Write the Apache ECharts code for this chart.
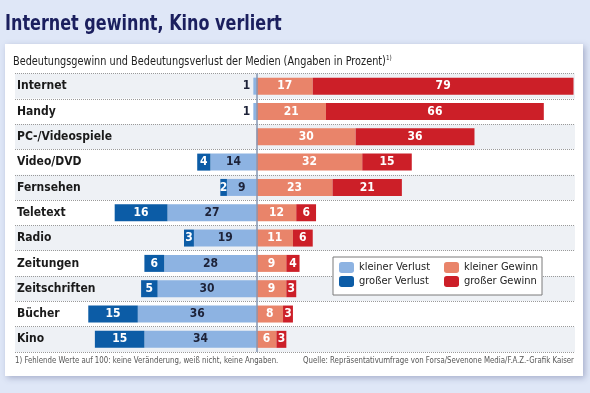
<!DOCTYPE html>
<html>
<head>
<meta charset="utf-8">
<script src="https://cdn.jsdelivr.net/npm/echarts@6/dist/echarts.min.js"></script>
<style>
  html, body { margin: 0; padding: 0; background: #dfe7f7; }
  #chart { width: 590px; height: 393px; }
</style>
</head>
<body>
<div id="chart"></div>
<script>
const kategorien = ["Internet", "Handy", "PC-/Videospiele", "Video/DVD", "Fernsehen", "Teletext", "Radio", "Zeitungen", "Zeitschriften", "Bücher", "Kino"];
const kleinerVerlust = [1, 1, null, 14, 9, 27, 19, 28, 30, 36, 34];
const grosserVerlust = [null, null, null, 4, 2, 16, 3, 6, 5, 15, 15];
const kleinerGewinn = [17, 21, 30, 32, 23, 12, 11, 9, 9, 8, 6];
const grosserGewinn = [79, 66, 36, 15, 21, 6, 6, 4, 3, 3, 3];

const SCHRIFT = '"Liberation Sans Narrow", "DejaVu Sans Condensed", sans-serif';
const DUNKEL = "#1d2238";

// Verluste nach links (negativ); sehr kleine Werte bekommen das Label neben den Balken
function verlustDaten(werte) {
    return werte.map(function(v) {
        if (v === null) return null;
        if (v < 2) {
            return { value: -v, label: { position: "left", distance: 3, color: DUNKEL } };
        }
        return -v;
    });
}

function balken(name, daten, farbe, textFarbe) {
    return {
        name: name,
        type: "bar",
        stack: "medien",
        barWidth: 17,
        data: daten,
        itemStyle: { color: farbe },
        label: {
            show: true,
            position: "inside",
            color: textFarbe,
            fontFamily: SCHRIFT,
            fontWeight: "bold",
            fontSize: 12,
            formatter: function(p) { return Math.abs(p.value); }
        },
        z: 4,
        silent: true
    };
}

const serieKV = balken("kleiner Verlust", verlustDaten(kleinerVerlust), "#8db3e2", DUNKEL);
const serieGV = balken("großer Verlust", verlustDaten(grosserVerlust), "#0c5ca6", "#fff");
const serieKG = balken("kleiner Gewinn", kleinerGewinn, "#e9846a", "#fff");
const serieGG = balken("großer Gewinn", grosserGewinn, "#cc1f28", "#fff");

serieKV.markLine = {
    silent: true,
    symbol: "none",
    label: { show: false },
    lineStyle: { color: "#8396b3", width: 1.5, type: "solid" },
    data: [{ xAxis: 0 }]
};

const legendeText = { fontFamily: SCHRIFT, fontSize: 11, color: "#222" };

function text(x, y, inhalt, groesse, farbe, fett, skala, ausrichtung) {
    return {
        type: "text",
        x: x, y: y,
        scaleX: skala,
        z: 20,
        style: {
            text: inhalt,
            fontFamily: SCHRIFT,
            fontSize: groesse,
            fontWeight: fett ? "bold" : "normal",
            fill: farbe,
            align: ausrichtung || "left",
            verticalAlign: "middle"
        }
    };
}

const chart = echarts.init(document.getElementById("chart"));
chart.setOption({
    backgroundColor: "#dfe7f7",
    animation: false,
    graphic: [{
        type: "rect",
        z: -10,
        shape: { x: 5, y: 44, width: 578, height: 332 },
        style: { fill: "#fff", shadowBlur: 6, shadowColor: "rgba(60,70,120,0.35)", shadowOffsetX: 2, shadowOffsetY: 2 }
    }, {
        type: "rect",
        z: 5,
        shape: { x: 333, y: 257, width: 209, height: 38 },
        style: { fill: "#fff", stroke: "#7a7a7a", lineWidth: 1 }
    },
    text(5, 24, "Internet gewinnt, Kino verliert", 22, "#1b1f5e", true, 0.81),
    text(13, 62, "Bedeutungsgewinn und Bedeutungsverlust der Medien (Angaben in Prozent)", 12, "#222", false, 0.9),
    text(386, 58, "1)", 7, "#222", false, 0.9),
    text(15, 361, "1) Fehlende Werte auf 100: keine Veränderung, weiß nicht, keine Angaben.", 9.5, "#555", false, 0.82),
    text(574, 361, "Quelle: Repräsentativumfrage von Forsa/Sevenone Media/F.A.Z.-Grafik Kaiser", 9.5, "#555", false, 0.82, "right")
    ],
    legend: [{
        data: ["kleiner Verlust", "großer Verlust"],
        orient: "vertical",
        left: 334, top: 257,
        itemWidth: 15, itemHeight: 11, itemGap: 3,
        z: 10,
        selectedMode: false,
        textStyle: legendeText
    }, {
        data: ["kleiner Gewinn", "großer Gewinn"],
        orient: "vertical",
        left: 439, top: 257,
        itemWidth: 15, itemHeight: 11, itemGap: 3,
        z: 10,
        selectedMode: false,
        textStyle: legendeText
    }],
    grid: { left: 15, right: 15, top: 73.5, bottom: 41 },
    xAxis: {
        type: "value",
        min: -73.2,
        max: 96.45,
        show: false
    },
    yAxis: {
        type: "category",
        inverse: true,
        data: kategorien,
        axisLine: { show: false },
        axisTick: { show: false },
        axisLabel: {
            inside: true,
            margin: 2,
            fontFamily: SCHRIFT,
            fontWeight: "bold",
            fontSize: 12,
            color: "#1a1a1a"
        },
        splitLine: { show: true, lineStyle: { type: "dotted", color: "#9a9a9a", width: 1 } },
        splitArea: { show: true, areaStyle: { color: ["#eef1f5", "#ffffff"] } }
    },
    series: [serieKV, serieGV, serieKG, serieGG]
});
</script>
</body>
</html>
